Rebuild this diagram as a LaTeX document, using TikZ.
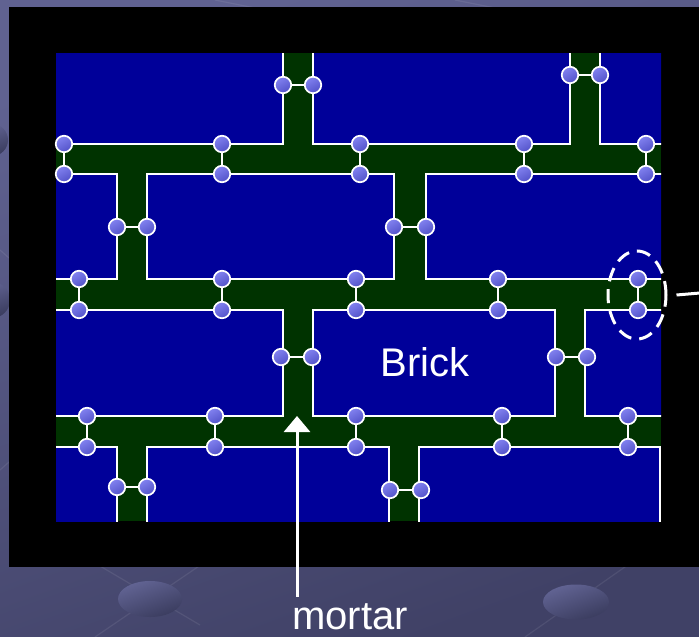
\documentclass[tikz,border=0pt]{standalone}
\usepackage{fontspec}
\setmainfont{Liberation Sans}
\usetikzlibrary{shapes.geometric,arrows.meta}
\definecolor{slateA}{RGB}{96,98,145}
\definecolor{slateB}{RGB}{64,65,102}
\definecolor{ovalA}{RGB}{98,100,148}
\definecolor{ovalB}{RGB}{58,60,94}
\definecolor{brickblue}{RGB}{0,0,153}
\definecolor{mortargreen}{RGB}{0,51,0}
\definecolor{jointA}{RGB}{130,130,240}
\definecolor{jointB}{RGB}{82,82,200}
\tikzset{
  brick/.style={fill=brickblue, draw=white, line width=1.6pt},
  joint/.style={circle, minimum size=16.5pt, inner sep=0pt, draw=white, line width=1.7pt,
    top color=jointA, bottom color=jointB, shading angle=30},
  tie/.style={draw=white, line width=1.6pt},
  bigtext/.style={text=white, font=\fontsize{40}{40}\selectfont, inner sep=0pt},
  faint/.style={draw=white, opacity=0.08, line width=1.2pt},
  bgoval/.style={top color=ovalA, bottom color=ovalB, shading angle=20},
}
\begin{document}
\begin{tikzpicture}[x=1pt,y=-1pt]
\useasboundingbox (0,0) rectangle (699,637);
% background
\shade[top color=slateA, bottom color=slateB, shading angle=20] (0,0) rectangle (699,637);
\draw[faint] (95,637) -- (205,562);
\draw[faint] (100,566) -- (200,625);
\draw[faint] (525,637) -- (632,562);
\draw[faint] (215,0) -- (255,8);
\draw[faint] (455,0) -- (495,8);
\draw[faint] (0,250) -- (9,258);
\draw[faint] (0,470) -- (9,462);
\shade[bgoval] (150,599) ellipse [x radius=32, y radius=18];
\shade[bgoval] (576,602) ellipse [x radius=33, y radius=17.5];
\shade[bgoval] (-8,300) ellipse [x radius=18, y radius=18];
\shade[bgoval] (-8,140) ellipse [x radius=16, y radius=16];
% black frame
\fill[black] (9,7) rectangle (699,567);
% wall
\begin{scope}
\clip (56,53) rectangle (661,521);
\fill[mortargreen] (56,53) rectangle (661,521);
% row 0
\filldraw[brick] (40,40) rectangle (283,144);
\filldraw[brick] (313,40) rectangle (570,144);
\filldraw[brick] (600,40) rectangle (680,144);
% row 1
\filldraw[brick] (40,174) rectangle (117,279);
\filldraw[brick] (147,174) rectangle (394,279);
\filldraw[brick] (426,174) rectangle (680,279);
% row 2
\filldraw[brick] (40,310) rectangle (283,416);
\filldraw[brick] (313,310) rectangle (555,416);
\filldraw[brick] (585,310) rectangle (680,416);
% row 3
\filldraw[brick] (40,447) rectangle (117,540);
\filldraw[brick] (147,447) rectangle (389,540);
\filldraw[brick] (419,447) rectangle (660.2,540);
\end{scope}
\node[bigtext, anchor=base] (bricklabel) at (425,376) {Brick};
% joints across horizontal bands
\foreach \x [count=\i] in {64,222,360,524,646} {
  \node[joint] (ht\i) at (\x,144) {};
  \node[joint] (hb\i) at (\x,174) {};
  \draw[tie] (ht\i) -- (hb\i);
}
\foreach \x [count=\i] in {79,222,356,498,638} {
  \node[joint] (mt\i) at (\x,279) {};
  \node[joint] (mb\i) at (\x,310) {};
  \draw[tie] (mt\i) -- (mb\i);
}
\foreach \x [count=\i] in {87,215,356,502,628} {
  \node[joint] (lt\i) at (\x,416) {};
  \node[joint] (lb\i) at (\x,447) {};
  \draw[tie] (lt\i) -- (lb\i);
}
% joints across vertical bands
\foreach \y/\xa/\xb [count=\i] in {85/283/313, 75/570/600, 227/117/147, 227/394/426,
    357/281/312, 357/556/587, 487/117/147, 490/390/421} {
  \node[joint] (vl\i) at (\xa,\y) {};
  \node[joint] (vr\i) at (\xb,\y) {};
  \draw[tie] (vl\i) -- (vr\i);
}
% highlighted joint
\node[ellipse, draw=white, line width=3pt, dash pattern=on 14pt off 8pt,
  minimum width=58pt, minimum height=88pt, inner sep=0pt] (focus) at (637,295) {};
\coordinate (offside) at (700,293);
\draw[white, line width=3pt] ([xshift=9pt]focus.east) -- (offside);
% mortar label and arrow
\coordinate (mtip) at (297,416);
\node[bigtext, anchor=base] (mortar) at (350,629) {mortar};
\draw[white, line width=3pt, -{Triangle[width=26pt,length=16pt]}]
  ([yshift=6pt]mortar.north -| mtip) -- (mtip);
\end{tikzpicture}
\end{document}
